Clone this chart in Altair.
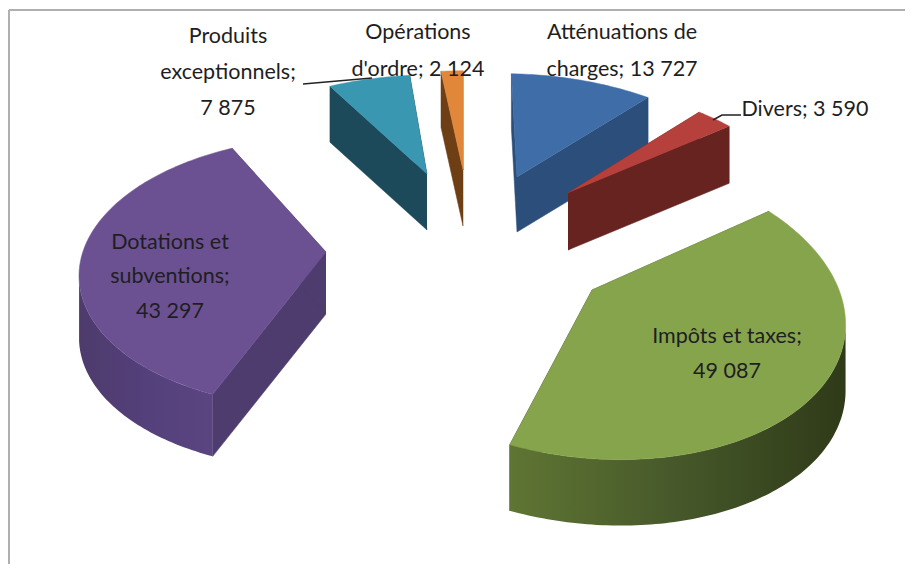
import numpy as np
import pandas as pd
import altair as alt

# ---- data
categories = ["Atténuations de charges", "Divers", "Impôts et taxes",
              "Dotations et subventions", "Produits exceptionnels", "Opérations d'ordre"]
values = [13727, 3590, 49087, 43297, 7875, 2124]

label_lines = [
    ["Atténuations de", "charges; 13 727"],
    ["Divers; 3 590"],
    ["Impôts et taxes;", "49 087"],
    ["Dotations et", "subventions;", "43 297"],
    ["Produits", "exceptionnels;", "7 875"],
    ["Opérations", "d'ordre; 2 124"],
]

# ---- pie styling: exploded centre, tilt matrix (a, s, b, t), perspective k, thickness
view = [
    dict(cx=517, cy=177, a=244, s=-7, b=129, t=-4, k=.25, depth=55),
    dict(cx=568, cy=193, a=235, s=1, b=133, t=-6, k=.25, depth=57),
    dict(cx=592, cy=290, a=250, s=-12, b=149, t=-9, k=.12, depth=66),
    dict(cx=326, cy=252, a=241, s=17, b=132, t=-6, k=.15, depth=62),
    dict(cx=427, cy=174, a=246, s=6, b=124, t=1, k=.25, depth=56),
    dict(cx=463, cy=170, a=247, s=0, b=124, t=0, k=.25, depth=56),
]
top_colors = ["#3f6da8", "#b5403c", "#86a44b", "#6c5192", "#3a97b1", "#e0873a"]
wall_colors = ["#2b4e7a", "#662320", "#46562a", "#4f3c6e", "#1c4a5b", "#6e3f14"]
rim_stops = [None, None, ("#5f7533", "#46582a", "#2f3a18"), ("#5a4580", "#54407a", "#4e3b6c"), None, None]

label_pos = [
    (622, [33, 70]), (805, [110]), (727, [337, 372]),
    (170, [243, 277, 312]), (228, [37, 73, 109]), (418, [33, 70]),
]
leaders = [[(303, 84), (372, 78)], [(713, 120), (722, 115), (741, 115)]]

W, H = 903, 556
X0, Y0 = 8, 8
xs = alt.Scale(domain=[X0, X0 + W], range=[0, W])
ys = alt.Scale(domain=[Y0, Y0 + H], range=[0, H])


def project(v, deg, drop=0.0):
    th = np.radians(deg)
    u, c = np.sin(th), np.cos(th)
    d = 1 + v["k"] * c
    return v["cx"] + (v["a"] * u + v["s"] * c) / d, v["cy"] - (v["b"] * c + v["t"] * u) / d + drop


def poly(px, py, **mark):
    df = pd.DataFrame({"x": px, "y": py, "i": np.arange(len(px))})
    return alt.Chart(df).mark_line(filled=True, **mark).encode(
        x=alt.X("x:Q", scale=xs, axis=None),
        y=alt.Y("y:Q", scale=ys, axis=None),
        order="i:Q",
    )


total = sum(values)
edges = np.concatenate([[0], np.cumsum(values)]) / total * 360
layers = []

for n, v in enumerate(view):
    a0, a1 = edges[n], edges[n + 1]
    arc = np.linspace(a0, a1, max(3, int(a1 - a0) + 2))
    ax, ay = project(v, arc)
    cx, cy, dp = v["cx"], v["cy"], v["depth"]
    # cut walls
    for ex, ey in [(ax[0], ay[0]), (ax[-1], ay[-1])]:
        layers.append(poly([cx, ex, ex, cx], [cy, ey, ey + dp, cy + dp],
                           fill=wall_colors[n], stroke=wall_colors[n], strokeWidth=0.5))
    # rim wall on the near side of the pie
    lo, hi = max(a0, 100), min(a1, 256)
    if hi > lo:
        rim = np.linspace(lo, hi, int(hi - lo) + 2)
        rx, ry = project(v, rim)
        stops = rim_stops[n]
        grad = alt.LinearGradient(
            gradient="linear", x1=1, x2=0, y1=0, y2=0,
            stops=[alt.GradientStop(offset=0, color=stops[2] if n == 2 else stops[0]),
                   alt.GradientStop(offset=.5, color=stops[1]),
                   alt.GradientStop(offset=1, color=stops[0] if n == 2 else stops[2])],
        )
        layers.append(poly(np.r_[rx, rx[::-1]], np.r_[ry, ry[::-1] + dp], fill=grad, stroke=None))
    # top face
    layers.append(poly(np.r_[cx, ax], np.r_[cy, ay], fill=top_colors[n], stroke=top_colors[n], strokeWidth=0.5))

# leader lines
for seg in leaders:
    layers.append(
        alt.Chart(pd.DataFrame({"x": [p[0] for p in seg], "y": [p[1] for p in seg], "i": range(len(seg))}))
        .mark_line(color="#222222", strokeWidth=1.5)
        .encode(x=alt.X("x:Q", scale=xs, axis=None), y=alt.Y("y:Q", scale=ys, axis=None), order="i:Q")
    )

# labels
rows = []
for lines, (lx, lys) in zip(label_lines, label_pos):
    for text, ly in zip(lines, lys):
        rows.append({"x": lx, "y": ly, "t": text})
layers.append(
    alt.Chart(pd.DataFrame(rows))
    .mark_text(font="Lato", fontSize=21.5, color="#1e1e22", align="center", baseline="middle")
    .encode(x=alt.X("x:Q", scale=xs, axis=None), y=alt.Y("y:Q", scale=ys, axis=None), text="t:N")
)

# frame: only top and left edges of the chart area are visible
frame_top = alt.Chart(pd.DataFrame({"a": [1]})).mark_rule(color="#b0b0b0", strokeWidth=2).encode(
    x=alt.value(1), x2=alt.value(897), y=alt.value(2))
frame_left = alt.Chart(pd.DataFrame({"a": [1]})).mark_rule(color="#b0b0b0", strokeWidth=2).encode(
    x=alt.value(1), y=alt.value(2), y2=alt.value(H))

chart = alt.layer(frame_top, frame_left, *layers).properties(
    width=W, height=H, padding=0, autosize=alt.AutoSizeParams(type="none"),
    background="white",
).configure_view(stroke=None)

chart.save("out.html", embed_options={"renderer": "svg", "actions": False})
